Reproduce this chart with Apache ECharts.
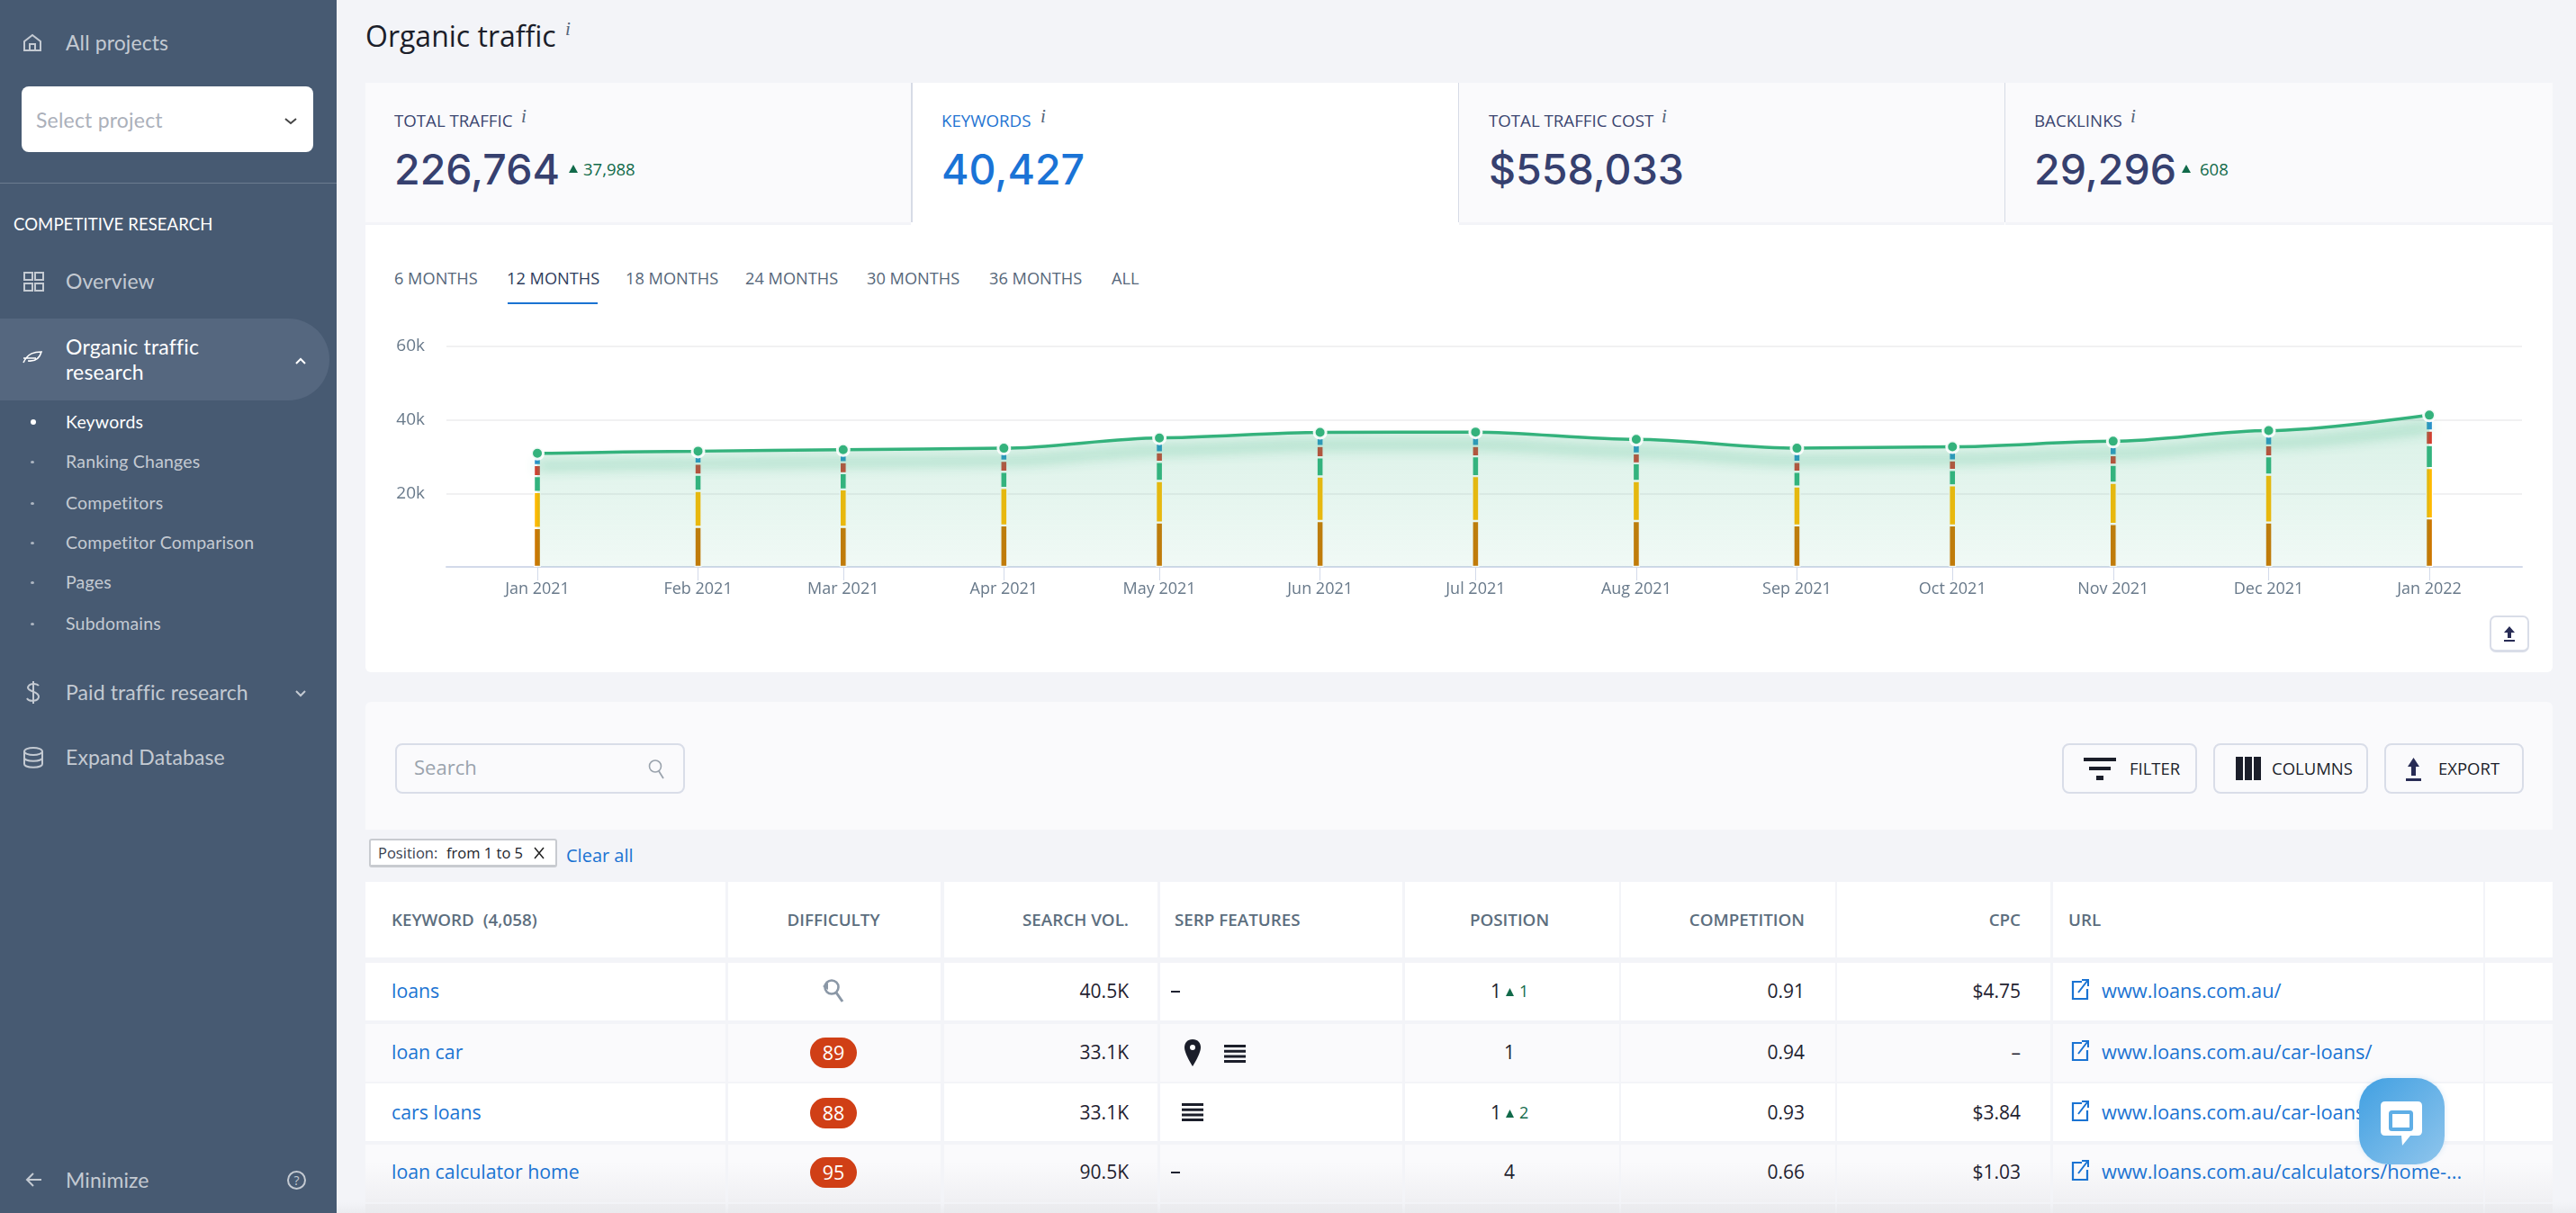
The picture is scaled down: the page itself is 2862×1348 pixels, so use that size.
<!DOCTYPE html>
<html><head><meta charset="utf-8">
<script src="https://cdn.jsdelivr.net/npm/echarts@6/dist/echarts.min.js"></script>
<style>
html,body{margin:0;padding:0;width:2862px;height:1348px;overflow:hidden;background:#F3F4F8;font-family:"Open Sans",sans-serif}
.b{position:absolute;box-sizing:border-box}
.t{position:absolute;white-space:nowrap;line-height:1.2}
svg{position:absolute;overflow:visible}
#chart{position:absolute;left:406px;top:340px;width:2430px;height:340px}
</style></head><body>
<div id="page"></div>
<div id="chart"></div>
<div id="over"></div>
<script>
// ---- chart data (keywords) ----
const months = ['2021-01-01','2021-02-01','2021-03-01','2021-04-01','2021-05-01','2021-06-01','2021-07-01','2021-08-01','2021-09-01','2021-10-01','2021-11-01','2021-12-01','2022-01-01'];
const tickLabels = ['Jan 2021','Feb 2021','Mar 2021','Apr 2021','May 2021','Jun 2021','Jul 2021','Aug 2021','Sep 2021','Oct 2021','Nov 2021','Dec 2021','Jan 2022'];
const pos1to3   = [10600,10900,10900,11300,12100,12500,12500,12500,11300,11300,11700,12100,13200];
const pos4to10  = [9800,9800,10200,10200,11300,12100,12200,10900,10600,10900,11200,13000,13700];
const pos11to20 = [4300,4400,4400,4400,5200,5200,5400,4800,4000,4200,4900,5000,6300];
const pos21to50 = [3000,3000,3000,3000,2600,3100,2800,2700,2700,2600,2600,3000,3900];
const pos51to100= [3200,3400,3400,3400,3900,3700,3800,3800,3700,3700,3800,4000,4200];
const totalKeywords = [30900,31500,31900,32300,35100,36600,36700,34700,32300,32700,34200,37100,41300];
const axisMin = '2020-12-15 03:40:00';
const axisMax = '2022-01-18 04:20:00';
// ---- page text ----
const subMenu = ['Keywords','Ranking Changes','Competitors','Competitor Comparison','Pages','Subdomains'];
const rangeTabs = ['6 MONTHS','12 MONTHS','18 MONTHS','24 MONTHS','30 MONTHS','36 MONTHS','ALL'];
const kpiLabels = ['TOTAL TRAFFIC','KEYWORDS','TOTAL TRAFFIC COST','BACKLINKS'];
const kpiValues = ['226,764','40,427','$558,033','29,296'];
const kpiDeltas = ['37,988','','','608'];
const rowKeywords = ['loans','loan car','cars loans','loan calculator home'];
const rowDifficulty = ['', '89','88','95'];
const rowVolume = ['40.5K','33.1K','33.1K','90.5K'];
const rowPosition = ['1','1','1','4'];
const rowPosDelta = ['1','','2',''];
const rowCompetition = ['0.91','0.94','0.93','0.66'];
const rowCpc = ['$4.75','–','$3.84','$1.03'];
const rowUrl = ['www.loans.com.au/','www.loans.com.au/car-loans/','www.loans.com.au/car-loans/','www.loans.com.au/calculators/home-...'];

const page=document.getElementById('page'), over=document.getElementById('over');
function box(x,y,w,h,css,root){const d=document.createElement('div');d.className='b';d.style.cssText=`left:${x}px;top:${y}px;width:${w}px;height:${h}px;`+(css||'');(root||page).appendChild(d);return d;}
function txt(s,x,cy,size,color,o){o=o||{};const d=document.createElement('div');d.className='t';d.textContent=s;
 const tx=o.align==='r'?'-100%':o.align==='c'?'-50%':'0';
 d.style.cssText=`left:${x}px;top:${cy}px;font-size:${size}px;color:${color};transform:translate(${tx},-50%);font-weight:${o.w||400};font-family:${o.f||'"Open Sans"'};letter-spacing:${o.ls||0}px;${o.i?'font-style:italic;':''}`;(o.root||page).appendChild(d);return d;}
function ico(x,y,w,h,inner,root){const n='http://www.w3.org/2000/svg';const s=document.createElementNS(n,'svg');s.setAttribute('width',w);s.setAttribute('height',h);s.setAttribute('viewBox',`0 0 ${w} ${h}`);s.style.left=x+'px';s.style.top=y+'px';s.innerHTML=inner;(root||page).appendChild(s);return s;}
const LATO='Lato', SB='#C4CAD2';

// sidebar
box(0,0,374,1348,'background:#475A72');
box(0,354,366,91,'background:#55677F;border-radius:0 46px 46px 0');
box(24,96,324,73,'background:#fff;border-radius:8px');
box(0,203,374,1,'background:#6C7C90');
txt('All projects',73,48,23,SB,{f:LATO,ls:.1});
txt('Select project',40,134,23,'#ABB0BA',{f:LATO,ls:.2});
txt('COMPETITIVE RESEARCH',15,249,18.5,'#fff',{f:LATO,ls:.1});
txt('Overview',73,313,23,SB,{f:LATO,ls:.1});
txt('Organic traffic',73,386,23,'#fff',{f:LATO,ls:.2});
txt('research',73,414,23,'#fff',{f:LATO,ls:.2});
const subY=[469,513,559,603,647,693];
subMenu.forEach((s,i)=>{txt(s,73,subY[i],19.5,i?SB:'#fff',{f:LATO,ls:.2});box(34,subY[i]-(i?1.5:3),i?4:6,i?3:6,`background:${i?'#AEB6C2':'#fff'};border-radius:50%`);});
txt('Paid traffic research',73,770,23,SB,{f:LATO,ls:.1});
txt('Expand Database',73,842,23,SB,{f:LATO,ls:.1});
txt('Minimize',73,1312,23,SB,{f:LATO,ls:.1});
const st=`fill="none" stroke="${SB}" stroke-width="2"`;
ico(26,38,20,20,`<path d="M1 8 L10 1 L19 8 V18 H1 Z M7 18 V11 H13 V18" ${st}/>`);
ico(26,302,22,22,`<path d="M1 1h9v8H1zM13 1h9v8h-9zM1 13h9v8H1zM13 13h9v8h-9z" ${st}/>`);
ico(25,390,22,14,`<path d="M1 13 C6 2 14 1 21 1 C19 8 14 12 6 11 M1 8 H15" fill="none" stroke="#fff" stroke-width="1.6"/>`);
ico(29,756,16,27,`<path d="M14 6 C12 3 3 3 2 8 C2 13 14 12 14 18 C14 24 3 24 1 20 M8 1 V26" ${st}/>`);
ico(26,830,22,24,`<ellipse cx="11" cy="5" rx="10" ry="4" ${st}/><path d="M1 5V19C1 24 21 24 21 19V5M1 12C1 17 21 17 21 12" ${st}/>`);
ico(28,1302,18,18,`<path d="M18 9H2M9 2L2 9L9 16" ${st}/>`);
ico(319,1301,21,21,`<circle cx="10.5" cy="10.5" r="9.5" ${st}/>`);
txt('?',329.5,1312,14,SB,{align:'c'});
ico(316,131,14,8,`<path d="M1 1L7 6L13 1" fill="none" stroke="#444" stroke-width="2"/>`);
ico(328,398,12,7,`<path d="M1 6L6 1L11 6" fill="none" stroke="#fff" stroke-width="2"/>`);
ico(328,767,12,7,`<path d="M1 1L6 6L11 1" fill="none" stroke="${SB}" stroke-width="2"/>`);

// header
txt('Organic traffic',406,40,32,'#1B1E2A');
txt('i',628,33,21,'#55657A',{i:1,f:'"Liberation Serif"'});

// KPI cards
const cardX=[406,1014,1621,2228], cardW=[606,606,606,608];
box(406,92,2430,655,'background:#fff;border-radius:0 0 6px 6px');
const valueX=[438,1046,1654,2260], deltaX=[648,0,0,2444], triX=[637,0,0,2429], iX=[579,1156,1846,2367];
kpiLabels.forEach((s,i)=>{
 const on=i===1;
 if(!on) box(cardX[i],92,cardW[i],158,'background:#FAFAFC;border-bottom:3px solid #F3F4F8');
 if(i<3) box(cardX[i]+606,92,2,155,'background:#D7DBE6');
 txt(s,valueX[i],134,18.7,on?'#1F74D2':'#3B4570');
 txt('i',iX[i],130,21,'#55657A',{i:1,f:'"Liberation Serif"'});
 txt(kpiValues[i],valueX[i],189,46.5,on?'#1A73D6':'#36406F',{w:500,f:'Inter'});
 if(kpiDeltas[i]){txt(kpiDeltas[i],deltaX[i],188,18.5,'#116A4A');
  ico(triX[i]-5,183,10,9,'<path d="M5 0L10 9H0Z" fill="#116A4A"/>');}
});
// range tabs
const tabX=[438,563,695,828,963,1099,1235];
rangeTabs.forEach((s,i)=>txt(s,tabX[i],310,18.2,i===1?'#2E3C5C':'#56677A'));
box(564,336,100,2,'background:#1A73D2');
box(2766,684,44,41,'border:2px solid #D9DDE8;border-radius:7px;border-bottom-width:3px;background:#fff');
ico(2781,696,14,18,'<path d="M7 0L13 7H9V13H5V7H1Z M1 15H13V17H1Z" fill="#282C55"/>');

// table panel
box(406,780,2430,142,'background:#FAFAFC;border-radius:6px 6px 0 0');
box(439,826,322,56,'border:2px solid #D9DDE8;border-radius:8px;background:#FAFAFC');
txt('Search',460,852,22,'#9AA3AD');
ico(720,843,20,24,'<circle cx="8" cy="8.5" r="6.5" fill="none" stroke="#9AA3AD" stroke-width="1.6"/><path d="M12 14L17 22" stroke="#9AA3AD" stroke-width="1.8"/>');
const btn=[[2291,150,'FILTER',2366],[2459,172,'COLUMNS',2524],[2649,155,'EXPORT',2709]];
btn.forEach(b=>{box(b[0],826,b[1],56,'border:2px solid #D9DDE8;border-radius:8px;background:#FAFAFC');txt(b[2],b[3],854,18.5,'#1B1E2A');});
ico(2315,842,36,28,'<path d="M0 0H36V4H0ZM6 10H30V14H6ZM14 20H22V25H14Z" fill="#1B1E2A"/>');
ico(2484,841,28,26,'<path d="M0 0H8V26H0ZM10 0H18V26H10ZM20 0H28V26H20Z" fill="#1B1E2A"/>');
ico(2673,842,17,26,'<path d="M8.5 0L15 10H11V20H6V10H2Z M0 23H17V26H0Z" fill="#282C55"/>');
box(410,932,209,32,'border:2px solid #C8CBD0;border-radius:3px;background:#fff;border-bottom-width:3px');
txt('Position: ',420,948,16.5,'#3A4250');
txt('from 1 to 5',496,948,16.5,'#1B1E2A',{w:500});
ico(593,941,12,14,'<path d="M1 1L11 13M11 1L1 13" stroke="#222" stroke-width="1.5"/>');
txt('Clear all',629,951,20,'#1A73D2',{w:500});

// table
const colL=[406,809,1049,1289,1561,1801,2041,2281,2761], colR=[806,1045,1286,1558,1799,2039,2278,2759,2836];
const rowsY=[[980,84,'#fff'],[1070,64,'#fff'],[1138,64,'#FAFAFC'],[1204,64,'#fff'],[1272,64,'linear-gradient(#FAFAFC 30%,#F0F0F3)'],[1338,10,'#EDEDF0']];
rowsY.forEach(r=>colL.forEach((l,i)=>box(l,r[0],colR[i]-l,r[1],'background:'+r[2])));
box(374,1336,2488,12,'background:linear-gradient(rgba(236,237,241,0),rgba(232,233,237,.7))');
const H='#5C6E7E';
txt('KEYWORD  (4,058)',435,1022,18.8,H,{w:600}).style.whiteSpace='pre';
txt('DIFFICULTY',926,1022,18.8,H,{w:600,align:'c'});
txt('SEARCH VOL.',1254,1022,18.8,H,{w:600,align:'r'});
txt('SERP FEATURES',1305,1022,18.8,H,{w:600});
txt('POSITION',1677,1022,18.8,H,{w:600,align:'c'});
txt('COMPETITION',2005,1022,18.8,H,{w:600,align:'r'});
txt('CPC',2245,1022,18.8,H,{w:600,align:'r'});
txt('URL',2298,1022,18.8,H,{w:600});
const rowC=[1102,1170,1237,1303], INK='#1F2230', LINK='#1A73D2';
function listIcon(x,cy){ico(x,cy-10,24,20,'<path d="M0 0H24V3H0ZM0 5.7H24V8.7H0ZM0 11.4H24V14.4H0ZM0 17H24V20H0Z" fill="#1B1E2A"/>');}
rowKeywords.forEach((k,i)=>{
 const y=rowC[i];
 txt(k,435,y-1,21.3,LINK);
 if(rowDifficulty[i]){box(900,y-17,52,34,'background:#D03F16;border-radius:17px');txt(rowDifficulty[i],926,y,21.5,'#fff',{align:'c'});}
 else ico(913,y-16,26,30,'<circle cx="11" cy="11" r="7.5" fill="none" stroke="#8A97A6" stroke-width="2.6"/><path d="M16 17L23 27" stroke="#8A97A6" stroke-width="3"/><path d="M1 10L7 6V14Z" fill="#8A97A6"/>');
 txt(rowVolume[i],1254,y,21,INK,{align:'r'});
 if(rowPosDelta[i]){txt(rowPosition[i],1662,y,21,INK,{align:'c'});ico(1673,y-4,9,9,'<path d="M4.5 0L9 9H0Z" fill="#116A4A"/>');txt(rowPosDelta[i],1688,y,18,'#116A4A');}
 else txt(rowPosition[i],1677,y,21,INK,{align:'c'});
 txt(rowCompetition[i],2005,y,21,INK,{align:'r'});
 txt(rowCpc[i],2245,y,21,INK,{align:'r'});
 ico(2301,y-14,20,24,`<path d="M12 3H2V22H18V11" fill="none" stroke="${LINK}" stroke-width="2.2"/><path d="M8 15L18 2M12 1H19V8" fill="none" stroke="${LINK}" stroke-width="2"/>`);
 txt(rowUrl[i],2335,y-1,21.8,LINK);
});
[0,3].forEach(i=>box(1301,rowC[i]-1,10,2,'background:#1F2230'));
ico(1316,1155,18,30,'<path d="M9 0C3 0 0 4 0 9C0 16 9 30 9 30C9 30 18 16 18 9C18 4 15 0 9 0Z" fill="#1B1E2A"/><circle cx="9" cy="9" r="3" fill="#fff"/>');
listIcon(1360,1171);listIcon(1313,1236);

// over-the-chart elements
box(2621,1198,95,96,'background:linear-gradient(135deg,#41A0E2,#8FC5EC);border-radius:32px;box-shadow:0 0 6px rgba(80,160,220,.2)',over);
ico(2645,1224,46,49,'<path d="M5 0H41Q46 0 46 5V33Q46 38 41 38H33L24 49L23 38H5Q0 38 0 33V5Q0 0 5 0Z" fill="#fff"/><rect x="11" y="12" width="23" height="19" rx="1.5" fill="none" stroke="#5FAEE6" stroke-width="4"/>',over);

// ---- chart ----
const times = months.map(m=>+echarts.time.parse(m));
const labelByTime = {}; times.forEach((t,i)=>labelByTime[t]=tickLabels[i]);
const pair = arr => times.map((t,i)=>[t,arr[i]]);
const bar = (name,arr,color)=>({name,type:'bar',stack:'kw',barWidth:8,data:pair(arr),z:2,
  itemStyle:{color,borderColor:'#fff',borderWidth:1.2}});
const chart = echarts.init(document.getElementById('chart'),null,{renderer:'canvas'});
chart.setOption({
 animation:false,
 grid:{left:90,top:45,width:2306,height:245,containLabel:false},
 tooltip:{show:false},
 xAxis:{type:'time',min:+echarts.time.parse(axisMin),max:+echarts.time.parse(axisMax),splitNumber:13,
  axisLine:{lineStyle:{color:'#D3DAEA',width:2}},
  axisTick:{show:true,length:15,customValues:times,lineStyle:{color:'#D3DAEA',width:1}},
  splitLine:{show:false},
  axisLabel:{hideOverlap:false,showMinLabel:false,showMaxLabel:false,margin:16,fontSize:18,color:'#68798A',fontFamily:'"Open Sans"',formatter:v=>labelByTime[v]||''}},
 yAxis:{type:'value',min:0,max:60000,interval:20000,
  axisLine:{show:false},axisTick:{show:false},
  splitLine:{lineStyle:{color:'#ECECEE',width:1.5}},
  axisLabel:{margin:24,fontSize:19,color:'#68798A',fontFamily:'"Open Sans"',formatter:v=>v?(v/1000)+'k':''}},
 series:[
  bar('1-3',pos1to3,'#CC7700'),
  bar('4-10',pos4to10,'#FFB900'),
  bar('11-20',pos11to20,'#33B37E'),
  bar('21-50',pos21to50,'#D63C2E'),
  bar('51-100',pos51to100,'#2A90D0'),
  {name:'Keywords',type:'line',data:pair(totalKeywords),z:3,smooth:0.3,smoothMonotone:'x',
   symbol:'circle',symbolSize:13,showSymbol:true,
   lineStyle:{color:'#34B27C',width:3.5,shadowColor:'rgba(52,178,124,.8)',shadowBlur:14,shadowOffsetY:14},
   itemStyle:{color:'#34B27C',borderColor:'rgba(255,255,255,.92)',borderWidth:3},
   areaStyle:{color:{type:'linear',x:0,y:0,x2:0,y2:1,colorStops:[{offset:0,color:'rgba(52,178,124,.27)'},{offset:1,color:'rgba(52,178,124,.10)'}]}}}
 ]
});
</script>
</body></html>
